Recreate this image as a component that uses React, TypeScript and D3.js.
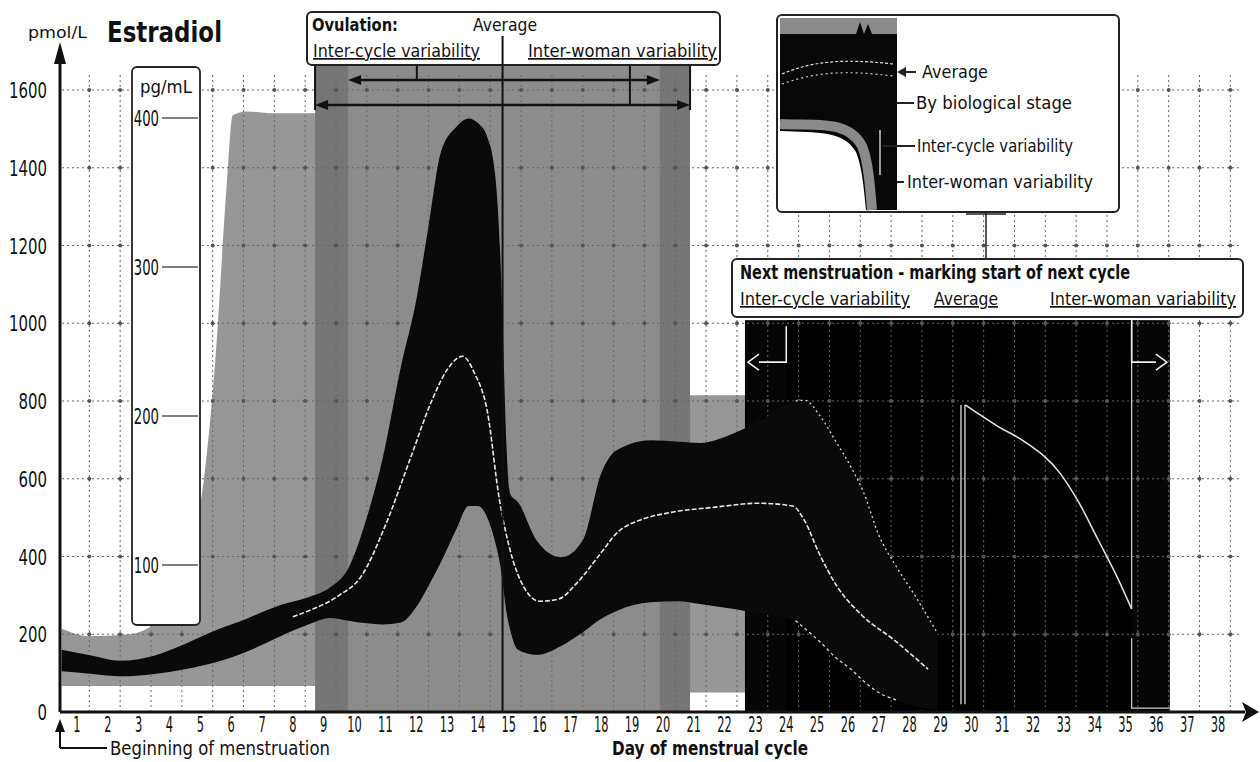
import React from 'react';
import * as d3 from 'd3';

const W = 1260;
const H = 762;
const FONT = "'DejaVu Sans', 'Liberation Sans', sans-serif";

const dayLabels = ['1', '2', '3', '4', '5', '6', '7', '8', '9', '10', '11', '12', '13', '14', '15', '16', '17', '18', '19', '20',
  '21', '22', '23', '24', '25', '26', '27', '28', '29', '30', '31', '32', '33', '34', '35', '36', '37', '38'];
const pmolTicks = [0, 200, 400, 600, 800, 1000, 1200, 1400, 1600];
const pgTicks = [100, 200, 300, 400];

// inter-woman variability of the level (light band)
const outerDays = [0.5, 1.4, 2.7, 3.5, 4.0, 4.5, 5.1, 5.5, 5.85, 6.05, 6.5, 7.4, 8.7, 20.85, 22.7];
const outerUpper = [215, 195, 200, 225, 260, 400, 590, 920, 1350, 1535, 1545, 1540, 1540, 815, 815];
const outerLower = [67, 67, 67, 67, 67, 67, 67, 67, 67, 67, 67, 67, 67, 50, 50];

// dark band around the average
const bandDays = [0.5, 1.5, 2.4, 3.5, 4.5, 5.5, 6.5, 7.6, 8.5, 9.2, 9.8, 10.4, 10.9, 11.5, 12.0, 12.4, 12.8, 13.3, 13.7, 14.0,
  14.3, 14.55, 14.72, 14.82, 14.92, 15.05, 15.3, 15.9, 16.7, 17.4, 18.0, 18.5, 19.6, 20.5, 21.2, 22.3, 23.2, 24.3, 24.6, 25.1,
  25.6, 26.1, 26.5, 27.0, 27.6, 28.2, 28.9];
const bandUpper = [160, 145, 132, 145, 175, 210, 240, 275, 295, 320, 370, 501, 648, 887, 1059, 1250, 1440, 1505, 1527, 1515,
  1480, 1390, 1188, 950, 700, 560, 540, 442, 398, 442, 614, 673, 699, 695, 692, 717, 751, 800, 802, 761,
  697, 630, 566, 455, 370, 296, 203];
const bandLower = [105, 98, 92, 98, 110, 128, 155, 195, 225, 242, 235, 228, 225, 230, 270, 325, 385, 470, 530, 530,
  501, 440, 380, 320, 260, 210, 160, 147, 170, 205, 240, 260, 282, 285, 278, 265, 252, 235, 215, 180,
  140, 110, 80, 50, 30, 15, 5];

// average level
const avgDays = [8.0, 8.5, 9.5, 10.2, 11.0, 11.8, 12.5, 13.0, 13.5, 13.9, 14.3, 14.7, 15.0, 15.5, 16.0, 16.6, 17.2, 18.0, 18.5,
  19.3, 20.1, 21.7, 23.1, 24.2, 24.6, 25.06, 25.64, 26.45, 27.5, 28.6];
const avgValues = [245, 260, 300, 347, 480, 650, 800, 880, 915, 870, 776, 545, 430, 320, 285, 290, 331, 410, 460,
  495, 511, 527, 537, 530, 491, 409, 324, 249, 185, 110];

// start of next cycle
const nextDays = [29.8, 30.9, 31.7, 32.9, 33.5, 34.1, 34.7, 35.2];
const nextValues = [790, 733, 697, 612, 537, 445, 352, 265];

// day ranges of ovulation and next menstruation
const ovulationWoman = [8.72, 20.88];
const ovulationCycle = [9.79, 19.9];
const ovulationAverage = 14.8;
const ovulationTop = 1664;
const nextWoman = [22.66, 36.44];
const nextCycle = [24.0, 35.2];
const nextAverage = 29.73;
const nextTop = 1008;

const x = d3.scaleLinear().domain([1, 38]).range([77, 1218]);
const y = d3.scaleLinear().domain([0, 1600]).range([712, 90]);
const yPg = d3.scaleLinear().domain([0, 400]).range([714, 118]);

type P3 = [number, number, number];
type P2 = [number, number];

const area = d3.area<P3>().x((d) => x(d[0])).y0((d) => y(d[2])).y1((d) => y(d[1])).curve(d3.curveMonotoneX);
const line = d3.line<P2>().x((d) => x(d[0])).y((d) => y(d[1])).curve(d3.curveMonotoneX);

const outerPts: P3[] = outerDays.map((d, i) => [d, outerUpper[i], outerLower[i]]);
const bandPts: P3[] = bandDays.map((d, i) => [d, bandUpper[i], bandLower[i]]);
const avgPts: P2[] = avgDays.map((d, i) => [d, avgValues[i]]);
const nextPts: P2[] = nextDays.map((d, i) => [d, nextValues[i]]);
const upperFall: P2[] = bandDays.map((d, i) => [d, bandUpper[i]] as P2).filter((p) => p[0] >= 24.3);
const lowerFall: P2[] = bandDays.map((d, i) => [d, bandLower[i]] as P2).filter((p) => p[0] >= 24.3 && p[0] <= 27.6);

const gridDays = dayLabels.map((l) => +l + 0.4);
const gridVals = pmolTicks.filter((v) => v > 0);

const vband = (r: number[], top: number, fill: string) => (
  <rect x={x(r[0])} y={y(top)} width={x(r[1]) - x(r[0])} height={y(0) - y(top)} fill={fill} />
);

// narrow text: squeezed horizontally like the condensed face of the original
const T = ({ x: tx, y: ty, size, sx = 0.78, anchor = 'start', bold = false, len, under = false, children }:
  { x: number; y: number; size: number; sx?: number; anchor?: string; bold?: boolean; len?: number; under?: boolean; children: any }) =>
  len ? (
    <text x={tx} y={ty} fontFamily={FONT} fontSize={size} fontWeight={bold ? 'bold' : 'normal'} fill="#111"
      textAnchor={anchor} textLength={len} lengthAdjust="spacingAndGlyphs" textDecoration={under ? 'underline' : 'none'}>
      {children}
    </text>
  ) : (
    <text transform={`translate(${tx},${ty}) scale(${sx},1)`} fontFamily={FONT} fontSize={size}
      fontWeight={bold ? 'bold' : 'normal'} fill="#111" textAnchor={anchor}>
      {children}
    </text>
  );

const Arrow = ({ x1, x2, yy }: { x1: number; x2: number; yy: number }) => (
  <g>
    <line x1={x1 + 6} x2={x2 - 6} y1={yy} y2={yy} stroke="#111" strokeWidth={2.5} />
    <polygon points={`${x1},${yy} ${x1 + 13},${yy - 5} ${x1 + 13},${yy + 5}`} fill="#111" />
    <polygon points={`${x2},${yy} ${x2 - 13},${yy - 5} ${x2 - 13},${yy + 5}`} fill="#111" />
  </g>
);

export default function App() {
  const x0 = 60;
  const yBase = y(0);
  return (
    <svg width={W} height={H} style={{ position: 'absolute', left: 0, top: 0, background: '#fff' }}>
      <rect width={W} height={H} fill="#fff" />

      {/* light variability band */}
      <path d={area(outerPts) || ''} fill="#979797" />

      {/* vertical day-range bands */}
      {vband(ovulationWoman, ovulationTop, '#767676')}
      {vband(ovulationCycle, ovulationTop, '#8c8c8c')}
      {vband(nextWoman, nextTop, '#050505')}
      {vband(nextCycle, nextTop, '#000')}

      {/* grid */}
      <g stroke="#666" strokeWidth={1} strokeDasharray="2,3">
        {gridVals.map((v) => (
          <line key={'h' + v} x1={x0 + 2} x2={1240} y1={y(v)} y2={y(v)} />
        ))}
        {gridDays.map((d) => (
          <line key={'v' + d} x1={x(d)} x2={x(d)} y1={75} y2={yBase} />
        ))}
      </g>
      <g fill="#555">
        {gridVals.map((v) =>
          gridDays.map((d) => <circle key={v + '-' + d} cx={x(d)} cy={y(v)} r={2} />)
        )}
      </g>

      {/* dark band */}
      <path d={area(bandPts) || ''} fill="#0a0a0a" />

      {/* average and bounds */}
      <path d={line(avgPts) || ''} fill="none" stroke="#e8e8e8" strokeWidth={1.6} strokeDasharray="5,2" />
      <path d={line(upperFall) || ''} fill="none" stroke="#dcdcdc" strokeWidth={1.3} strokeDasharray="2,3" />
      <path d={line(lowerFall) || ''} fill="none" stroke="#dcdcdc" strokeWidth={1.3} strokeDasharray="3,3" />
      <path d={line(nextPts) || ''} fill="none" stroke="#e6e6e6" strokeWidth={1.5} />
      <line x1={x(nextAverage) - 2} x2={x(nextAverage) - 2} y1={y(790)} y2={y(20)} stroke="#e0e0e0" strokeWidth={1.3} />
      <line x1={x(nextAverage) + 2} x2={x(nextAverage) + 2} y1={y(790)} y2={y(20)} stroke="#e0e0e0" strokeWidth={1.3} />
      <line x1={x(nextCycle[1])} x2={x(nextCycle[1])} y1={y(nextTop)} y2={y(265)} stroke="#d8d8d8" strokeWidth={1.2} />
      <path d={`M${x(nextCycle[1])},${y(190)} V${y(10)} H${x(nextWoman[1])}`} fill="none" stroke="#cfcfcf" strokeWidth={1.2} />

      {/* white braces in next menstruation band */}
      <g fill="none" stroke="#eee" strokeWidth={1.6}>
        <path d={`M${x(nextCycle[0])},${y(nextTop) + 6} V${y(nextTop) + 42} H${x(nextWoman[0]) + 14} M${x(nextWoman[0]) + 14},${y(nextTop) + 34} L${x(nextWoman[0]) + 3},${y(nextTop) + 42} L${x(nextWoman[0]) + 14},${y(nextTop) + 50}`} />
        <path d={`M${x(nextCycle[1])},${y(nextTop)} V${y(nextTop) + 42} H${x(nextWoman[1]) - 14} M${x(nextWoman[1]) - 14},${y(nextTop) + 34} L${x(nextWoman[1]) - 3},${y(nextTop) + 42} L${x(nextWoman[1]) - 14},${y(nextTop) + 50}`} />
      </g>

      {/* ovulation average line */}
      <line x1={x(ovulationAverage)} x2={x(ovulationAverage)} y1={38} y2={yBase} stroke="#111" strokeWidth={2} />

      {/* ovulation arrows */}
      <Arrow x1={x(ovulationCycle[0])} x2={x(ovulationCycle[1])} yy={80} />
      <Arrow x1={x(ovulationWoman[0])} x2={x(ovulationWoman[1])} yy={105} />
      <g stroke="#111" strokeWidth={2}>
        <line x1={x(12.02)} x2={x(12.02)} y1={65} y2={80} />
        <line x1={x(18.93)} x2={x(18.93)} y1={65} y2={105} />
        <line x1={x(ovulationWoman[0])} x2={x(ovulationWoman[0])} y1={65} y2={110} />
        <line x1={x(ovulationWoman[1])} x2={x(ovulationWoman[1])} y1={65} y2={110} />
      </g>

      {/* pg/mL box */}
      <rect x={132} y={67} width={68} height={558} rx={5} fill="#fff" stroke="#222" strokeWidth={1.8} />
      <T x={140} y={93} size={17} len={52}>pg/mL</T>
      {pgTicks.map((v) => (
        <g key={'pg' + v}>
          <T x={159} y={yPg(v) + 8} size={22} sx={0.6} anchor="end">{v}</T>
          <line x1={162} x2={198} y1={yPg(v)} y2={yPg(v)} stroke="#555" strokeWidth={1.5} />
        </g>
      ))}

      {/* axes */}
      <line x1={x0} x2={x0} y1={yBase} y2={58} stroke="#111" strokeWidth={3} />
      <polygon points={`${x0},42 ${x0 - 6},64 ${x0 + 6},64`} fill="#111" />
      <line x1={x0} x2={1245} y1={yBase} y2={yBase} stroke="#111" strokeWidth={3} />
      <polygon points={`1259,${yBase} 1242,${yBase - 10} 1246,${yBase} 1242,${yBase + 10}`} fill="#111" />
      {pmolTicks.map((v) => (
        <T key={'pm' + v} x={47} y={y(v) + 8} size={22} sx={0.68} anchor="end">{v}</T>
      ))}
      {dayLabels.map((l) => (
        <T key={'d' + l} x={x(+l)} y={732} size={22} sx={0.52} anchor="middle">{l}</T>
      ))}
      <T x={612} y={755} size={19} bold len={196}>Day of menstrual cycle</T>
      <line x1={x0} x2={x0} y1={748} y2={730} stroke="#111" strokeWidth={2} />
      <polygon points={`${x0},719 ${x0 - 5},732 ${x0 + 5},732`} fill="#111" />
      <line x1={x0} x2={107} y1={748} y2={748} stroke="#111" strokeWidth={2} />
      <T x={110} y={755} size={19} len={220}>Beginning of menstruation</T>

      {/* title */}
      <T x={28} y={38} size={16} len={59}>pmol/L</T>
      <T x={107} y={42} size={29} bold len={115}>Estradiol</T>

      {/* ovulation label */}
      <rect x={307} y={12} width={413} height={53} rx={5} fill="#fff" stroke="#222" strokeWidth={2} />
      <T x={312} y={31} size={18} bold len={86}>Ovulation:</T>
      <T x={473} y={31} size={17} len={64}>Average</T>
      <line x1={x(ovulationAverage)} x2={x(ovulationAverage)} y1={36} y2={65} stroke="#111" strokeWidth={2} />
      <T x={313} y={57} size={17} len={167} under>Inter-cycle variability</T>
      <T x={528} y={57} size={17} len={189} under>Inter-woman variability</T>

      {/* legend inset */}
      <rect x={777} y={15} width={342} height={197} rx={5} fill="#fff" stroke="#222" strokeWidth={2} />
      <rect x={780} y={18} width={117} height={192} fill="#080808" />
      <path d="M780,18 H897 V34 L872,34 L868,24 L864,34 L860,22 L856,34 H780 Z" fill="#8a8a8a" />
      <path d="M782,74 C810,62 840,58 893,64" fill="none" stroke="#ddd" strokeWidth={1.2} strokeDasharray="3,2" />
      <path d="M782,84 C815,72 845,70 893,76" fill="none" stroke="#ccc" strokeWidth={1.2} strokeDasharray="2,3" />
      <path d="M780,124 C820,126 848,120 862,146 C868,160 870,185 872,210" fill="none" stroke="#8a8a8a" strokeWidth={10} />
      <path d="M780,131 C818,133 843,130 856,152 C862,166 864,190 866,210 L780,210 Z" fill="#fff" />
      <line x1={880} x2={880} y1={130} y2={175} stroke="#ccc" strokeWidth={1.5} />
      <g stroke="#222" strokeWidth={2}>
        <line x1={903} x2={916} y1={72} y2={72} />
        <line x1={897} x2={914} y1={103} y2={103} />
        <line x1={883} x2={915} y1={146} y2={146} />
        <line x1={897} x2={904} y1={182} y2={182} />
      </g>
      <polygon points="897,72 906,67 906,77" fill="#222" />
      <T x={922} y={78} size={17} len={66}>Average</T>
      <T x={916} y={109} size={17} len={156}>By biological stage</T>
      <T x={917} y={152} size={17} len={156}>Inter-cycle variability</T>
      <T x={907} y={188} size={17} len={186}>Inter-woman variability</T>
      <line x1={986} x2={986} y1={212} y2={259} stroke="#222" strokeWidth={1.5} />
      <line x1={966} x2={1006} y1={214} y2={214} stroke="#222" strokeWidth={1.5} />

      {/* next menstruation label */}
      <rect x={732} y={259} width={511} height={58} rx={5} fill="#fff" stroke="#222" strokeWidth={2} />
      <T x={740} y={279} size={19} bold len={390}>Next menstruation - marking start of next cycle</T>
      <T x={740} y={305} size={17} len={170} under>Inter-cycle variability</T>
      <T x={934} y={305} size={17} len={64} under>Average</T>
      <T x={1050} y={305} size={17} len={186} under>Inter-woman variability</T>
    </svg>
  );
}
